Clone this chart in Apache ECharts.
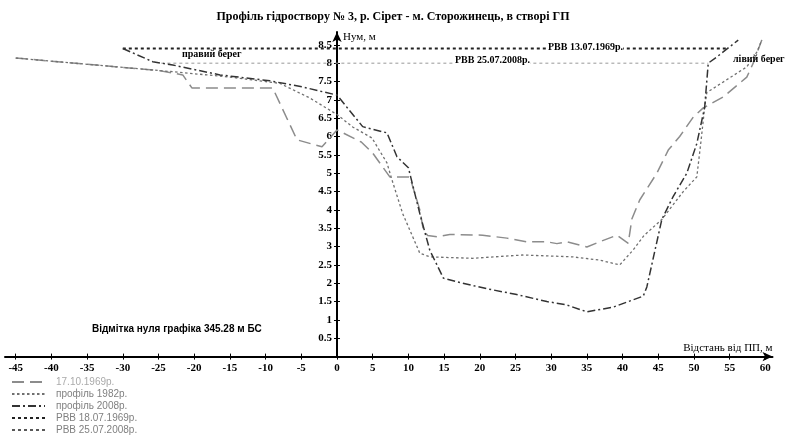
<!DOCTYPE html>
<html>
<head>
<meta charset="utf-8">
<script src="https://cdn.jsdelivr.net/npm/echarts@6/dist/echarts.min.js"></script>
<style>html,body{margin:0;padding:0;background:#fff}#c{width:786px;height:435px}</style>
</head>
<body>
<div id="c"></div>
<script>
// ---- data (distance from ПП, m ; level Нум, m) ----
const xTicks = [-45,-40,-35,-30,-25,-20,-15,-10,-5,0,5,10,15,20,25,30,35,40,45,50,55,60];
const yTicks = [0.5,1,1.5,2,2.5,3,3.5,4,4.5,5,5.5,6,6.5,7,7.5,8,8.5];

const profile1969 = [[-45,8.14],[-35,7.97],[-25,7.8],[-21.6,7.68],[-20.3,7.32],[-9,7.32],[-5.6,5.91],[-2.1,5.72],[0,6.18],[3.4,5.85],[5,5.55],[7.4,4.9],[10.2,4.9],[11.6,4.0],[12.1,3.45],[12.7,3.3],[14,3.27],[15.8,3.33],[20.4,3.31],[23.8,3.23],[26.6,3.13],[29.4,3.13],[30.8,3.08],[32.2,3.13],[35,2.99],[36.8,3.13],[39.2,3.31],[40.8,3.09],[41.3,3.75],[42.4,4.27],[44.8,5.0],[46.4,5.63],[48,6.0],[49.9,6.53],[51.3,6.78],[54.1,7.08],[57.4,7.62],[58.3,8.0],[59.5,8.63]];

const profile1982 = [[-45,8.14],[-35,7.97],[-22,7.75],[-15,7.62],[-8,7.45],[-3.8,7.05],[0,6.6],[2.2,6.26],[4.9,5.96],[7,5.28],[7.7,4.82],[9.2,3.9],[11.6,2.82],[13,2.72],[15.8,2.7],[19,2.68],[26,2.77],[33,2.72],[36.8,2.63],[39.6,2.5],[41.5,2.91],[43,3.3],[45.5,3.74],[48.5,4.5],[50.4,4.9],[51,5.9],[51.5,6.8],[51.8,7.2],[55,7.6],[57.4,7.9],[58.8,8.3],[59.5,8.63]];

const profile2008 = [[-30,8.4],[-25.8,8.04],[-23,7.95],[-16.4,7.68],[-9.4,7.52],[-4.8,7.35],[0,7.13],[3.6,6.27],[7,6.1],[8.4,5.45],[10,5.15],[11.6,3.9],[13,2.9],[14.9,2.14],[17.2,2.02],[21,1.85],[25,1.7],[29.4,1.5],[32,1.42],[35,1.22],[38.7,1.35],[42.9,1.65],[43.4,1.9],[45.5,3.74],[47.1,4.37],[49,5.0],[50.4,5.81],[51.5,6.8],[52,8.0],[53.2,8.17],[56.2,8.63]];

const rvv1969 = [[-30,8.4],[54.7,8.4]];
const rvv2008 = [[-24.6,8.0],[52,8.0]];

const seriesNames = ['17.10.1969р.','профіль 1982р.','профіль 2008р.','РВВ 18.07.1969р.','РВВ 25.07.2008р.'];

const X_MIN = -46.5, X_MAX = 61, Y_MIN = 0, Y_MAX = 8.85;
const G_LEFT = 5, G_RIGHT = 13.5, G_TOP = 32, G_BOTTOM = 78.4;
const W = 786;
const gridW = W - G_LEFT - G_RIGHT;
// pixel offset of the x = 0 line from the grid's left / right edges (axis crossing at origin)
const zeroFromLeft = (0 - X_MIN) / (X_MAX - X_MIN) * gridW;
const zeroFromRight = gridW - zeroFromLeft;

const chart = echarts.init(document.getElementById('c'), null, {renderer:'canvas'});
const serif = 'Liberation Serif';
const tickLabel = {fontFamily: serif, fontSize: 11, fontWeight: 'bold', color: '#000'};
const colors = ['#8c8c8c', '#707070', '#333333', '#222222', '#999999'];

const option = {
  animation: false,
  backgroundColor: '#fff',
  color: colors,
  title: {
    text: 'Профіль гідроствору № 3, р. Сірет - м. Сторожинець, в створі ГП',
    left: 'center', top: 6,
    textStyle: {fontFamily: serif, fontSize: 12, fontWeight: 'bold', color: '#000'}
  },
  grid: {left: G_LEFT, right: G_RIGHT, top: G_TOP, bottom: G_BOTTOM, outerBoundsMode: 'none', containLabel: false},
  legend: {
    orient: 'vertical', left: 11, top: 377, padding: 0,
    itemWidth: 33, itemHeight: 8, itemGap: 2,
    itemStyle: {opacity: 0},
    textStyle: {fontFamily: 'Liberation Sans', fontSize: 10, lineHeight: 10, color: '#808080', padding: [0,0,0,6]},
    data: [
      {name: seriesNames[0], textStyle: {color: '#aaa'}},
      {name: seriesNames[1]},
      {name: seriesNames[2]},
      {name: seriesNames[3]},
      {name: seriesNames[4], lineStyle: {color: '#222', width: 1.5, type: [3,3]}}
    ]
  },
  xAxis: [
    {
      type: 'value', position: 'bottom', min: X_MIN, max: X_MAX,
      name: 'Відстань від ПП, м', nameLocation: 'end', nameGap: 0,
      nameTextStyle: {fontFamily: serif, fontSize: 11, color: '#000', align: 'right', verticalAlign: 'bottom', padding: [0, 0, 3, 0]},
      axisLine: {onZero: true, lineStyle: {color: '#000', width: 2}, symbol: ['none','arrow'], symbolSize: [7,10]},
      axisTick: {customValues: xTicks, length: 3, lineStyle: {color: '#000', width: 1}},
      axisLabel: Object.assign({customValues: xTicks, margin: 6}, tickLabel),
      splitLine: {show: false}
    },
    {
      type: 'value', position: 'top', min: X_MIN, max: X_MAX,
      axisLine: {show: false, onZero: true},
      axisTick: {customValues: xTicks, length: 3, lineStyle: {color: '#000', width: 1}},
      axisLabel: {show: false},
      splitLine: {show: false}
    }
  ],
  yAxis: [
    {
      type: 'value', position: 'left', min: Y_MIN, max: Y_MAX,
      offset: -zeroFromLeft,
      name: 'Нум, м', nameLocation: 'end', nameGap: -11,
      nameTextStyle: {fontFamily: serif, fontSize: 11, color: '#000', align: 'left', padding: [0, 0, 0, 6]},
      axisLine: {onZero: false, lineStyle: {color: '#000', width: 2}, symbol: ['none','arrow'], symbolSize: [7,10]},
      axisTick: {customValues: yTicks, length: 3, lineStyle: {color: '#000', width: 1}},
      axisLabel: Object.assign({customValues: yTicks, margin: 5}, tickLabel),
      splitLine: {show: false}
    },
    {
      type: 'value', position: 'right', min: Y_MIN, max: Y_MAX,
      offset: -zeroFromRight,
      axisLine: {show: false, onZero: false},
      axisTick: {customValues: yTicks, length: 3, lineStyle: {color: '#000', width: 1}},
      axisLabel: {show: false},
      splitLine: {show: false}
    }
  ],
  series: [
    {name: seriesNames[0], type: 'line', data: profile1969, symbol: 'none', z: 3,
     itemStyle: {color: colors[0]}, lineStyle: {color: colors[0], width: 1.5, type: [12,6]}},
    {name: seriesNames[1], type: 'line', data: profile1982, symbol: 'none', z: 3,
     itemStyle: {color: colors[1]}, lineStyle: {color: colors[1], width: 1.3, type: [2.5,2.5]}},
    {name: seriesNames[2], type: 'line', data: profile2008, symbol: 'none', z: 4,
     itemStyle: {color: colors[2]}, lineStyle: {color: colors[2], width: 1.5, type: [8,3,2,3]}},
    {name: seriesNames[3], type: 'line', data: rvv1969, symbol: 'none', z: 2,
     itemStyle: {color: colors[3]}, lineStyle: {color: colors[3], width: 2, type: [3,3]}},
    {name: seriesNames[4], type: 'line', data: rvv2008, symbol: 'none', z: 2,
     itemStyle: {color: colors[4]}, lineStyle: {color: colors[4], width: 1, type: [3,3]}}
  ],
  graphic: [
    {type: 'text', left: 182, top: 49, z: 10,
     style: {text: 'правий берег', font: 'bold 10px "Liberation Serif"', fill: '#000'}},
    {type: 'text', left: 733, top: 54, z: 10,
     style: {text: 'лівий берег', font: 'bold 10px "Liberation Serif"', fill: '#000'}},
    {type: 'text', left: 548, top: 42, z: 10,
     style: {text: 'РВВ 13.07.1969р.', font: 'bold 10px "Liberation Serif"', fill: '#000', backgroundColor: '#fff'}},
    {type: 'text', left: 455, top: 55, z: 10,
     style: {text: 'РВВ 25.07.2008р.', font: 'bold 10px "Liberation Serif"', fill: '#000', backgroundColor: '#fff'}},
    {type: 'text', left: 92, top: 324, z: 10,
     style: {text: 'Відмітка нуля графіка 345.28 м БС', font: 'bold 10px "Liberation Sans"', fill: '#000'}}
  ]
};
chart.setOption(option);
</script>
</body>
</html>
